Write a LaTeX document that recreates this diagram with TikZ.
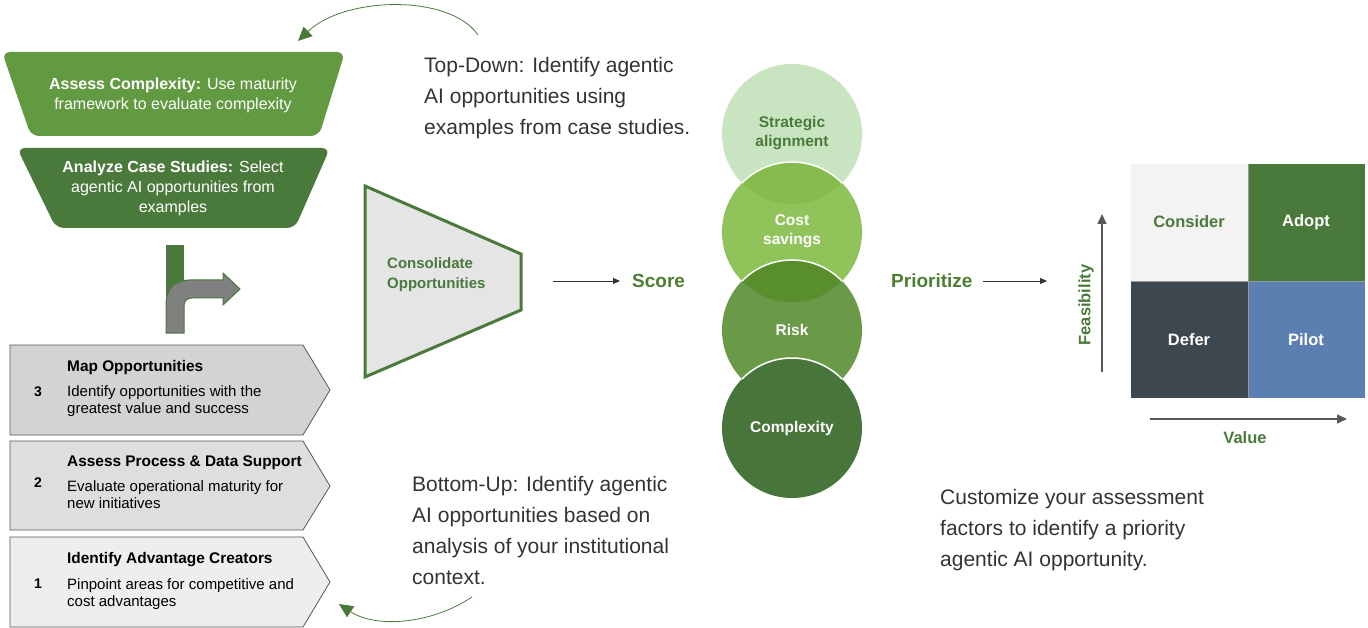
\documentclass[tikz,border=0pt]{standalone}
\usepackage{fontspec}
\setmainfont{Liberation Sans}
\usetikzlibrary{arrows.meta}
\definecolor{lgreen}{HTML}{629A41}
\definecolor{dgreen}{HTML}{4A7A3B}
\definecolor{tgreen}{HTML}{4A8030}
\definecolor{txt}{HTML}{333333}
\definecolor{cstrat}{HTML}{C9E4C0}
\definecolor{ccost}{HTML}{90C45A}
\definecolor{ccostl}{HTML}{86BC4D}
\definecolor{crisk}{HTML}{6A9A48}
\definecolor{crisklens}{HTML}{588E2C}
\definecolor{ccomp}{HTML}{48763A}
\definecolor{cons}{HTML}{F3F3F3}
\definecolor{defer}{HTML}{3D4750}
\definecolor{pilot}{HTML}{5B7FB0}
\definecolor{box3}{HTML}{D3D3D3}
\definecolor{box2}{HTML}{DEDEDE}
\definecolor{box1}{HTML}{EEEEEE}
\definecolor{arrowgray}{HTML}{808080}
\tikzset{
  para/.style={anchor=west,align=left,inner sep=0pt,text=txt,font=\fontsize{21}{31}\selectfont},
  traptext/.style={align=center,inner sep=0pt,text=white,font=\fontsize{16}{20}\selectfont},
  chevron/.style={draw=black!65,line width=0.8pt},
  btitle/.style={anchor=west,inner sep=0pt,font=\bfseries\fontsize{15.4}{18}\selectfont},
  bdesc/.style={anchor=west,align=left,inner sep=0pt,font=\fontsize{15}{17}\selectfont},
  bnum/.style={inner sep=0pt,font=\bfseries\fontsize{14}{17}\selectfont},
  circtext/.style={align=center,inner sep=0pt,text=white,font=\bfseries\fontsize{15.5}{18.5}\selectfont},
  bigword/.style={inner sep=0pt,text=tgreen,font=\bfseries\fontsize{19}{22}\selectfont},
  cell/.style={inner sep=0pt,font=\bfseries\fontsize{16.5}{20}\selectfont},
  curvearrow/.style={draw=dgreen,line width=0.8pt,-{Triangle[length=14pt,width=13pt]}},
  flowarrow/.style={draw=txt,line width=0.9pt,-{Triangle[length=7pt,width=6pt]}},
  axisarrow/.style={draw=black!65,line width=1.6pt,-{Triangle[length=10pt,width=9pt]}},
}
\begin{document}
\begin{tikzpicture}[x=1pt,y=-1pt]
\useasboundingbox (0,0) rectangle (1368,628);
% trapezoids
\fill[lgreen,rounded corners=8pt] (2,52) -- (345,52) -- (319,136) -- (31,136) -- cycle;
\node[traptext] (assess) at (173,95) {\textbf{Assess Complexity:} Use maturity\\framework to evaluate complexity};
\fill[dgreen,rounded corners=8pt] (17,148) -- (330,148) -- (295,228) -- (56,228) -- cycle;
\node[traptext] (analyze) at (173,188) {\textbf{Analyze Case Studies:} Select\\agentic AI opportunities from\\examples};
% bent arrow icon
\fill[dgreen] (166,245) rectangle (184,300);
\draw[black!60,line width=0.8pt] (166,245) -- (166,292);
\filldraw[fill=arrowgray,draw=dgreen,line width=1pt] (166,333) -- (166,304) .. controls (166,289) and (175,280) .. (190,280) -- (223,280) -- (223,273) -- (240,289) -- (223,305) -- (223,298) -- (192,298) .. controls (187,298) and (184,301) .. (184,306) -- (184,333) -- cycle;
% chevron boxes
\filldraw[chevron,fill=box3] (10,345) -- (303,345) -- (330,390) -- (303,435) -- (10,435) -- cycle;
\node[bnum] (n3) at (38,392) {3};
\node[btitle] (t3) at (67,368) {Map Opportunities};
\node[bdesc] (d3) at (67,401) {Identify opportunities with the\\greatest value and success};
\filldraw[chevron,fill=box2] (10,441) -- (303,441) -- (330,486) -- (303,530) -- (10,530) -- cycle;
\node[bnum] (n2) at (38,483) {2};
\node[btitle] (t2) at (67,463) {Assess Process \& Data Support};
\node[bdesc] (d2) at (67,495) {Evaluate operational maturity for\\new initiatives};
\filldraw[chevron,fill=box1] (10,537) -- (303,537) -- (330,582) -- (303,627) -- (10,627) -- cycle;
\node[bnum] (n1) at (38,584) {1};
\node[btitle] (t1) at (67,560) {Identify Advantage Creators};
\node[bdesc] (d1) at (67,594) {Pinpoint areas for competitive and\\cost advantages};
% curved arrows
\coordinate (ts) at (478,35);
\coordinate (te) at (298,41);
\draw[curvearrow] (ts) .. controls (450,-6) and (345,-4) .. (te);
\coordinate (bs) at (472,597);
\coordinate (be) at (339,604);
\draw[curvearrow] (bs) .. controls (430,625) and (375,628) .. (be);
% paragraphs
\node[para] (topdown) at (424,98) {Top-Down: Identify agentic\\AI opportunities using\\examples from case studies.};
\node[para] (bottomup) at (412,530) {Bottom-Up: Identify agentic\\AI opportunities based on\\analysis of your institutional\\context.};
\node[para] (custom) at (940,530) {Customize your assessment\\factors to identify a priority\\agentic AI opportunity.};
% consolidate
\filldraw[fill=black!10,draw=dgreen,line width=3pt] (365,186) -- (521,254) -- (521,310) -- (365,377) -- cycle;
\node[anchor=west,align=left,inner sep=0pt,text=dgreen,font=\bfseries\fontsize{15}{20}\selectfont] (consol) at (387,275) {Consolidate\\Opportunities};
% score
\coordinate (a1s) at (553,281);
\node[bigword,anchor=west] (score) at (632,281) {Score};
\draw[flowarrow] (a1s) -- ([xshift=-12pt]score.west);
% circles
\fill[cstrat] (792,134) circle (70);
\fill[ccost] (792,232) circle (70);
\begin{scope}\clip (792,134) circle (70); \fill[ccostl] (792,232) circle (70); \draw[white,line width=1.5pt] (792,232) circle (70); \end{scope}
\fill[crisk] (792,330) circle (70);
\begin{scope}\clip (792,232) circle (70); \fill[crisklens] (792,330) circle (70); \draw[white,line width=1.5pt] (792,330) circle (70); \end{scope}
\fill[ccomp] (792,428) circle (70);
\begin{scope}\clip (792,330) circle (70); \draw[white,line width=1.5pt] (792,428) circle (70); \end{scope}
\node[circtext,text=dgreen] (strat) at (792,133) {Strategic\\alignment};
\node[circtext] (cost) at (792,231) {Cost\\savings};
\node[circtext] (risk) at (792,330) {Risk};
\node[circtext] (comp) at (792,428) {Complexity};
% prioritize
\node[bigword,anchor=west] (prio) at (891,281) {Prioritize};
\coordinate (a2e) at (1047,281);
\draw[flowarrow] ([xshift=10pt]prio.east) -- (a2e);
% matrix
\fill[cons] (1131,164) rectangle (1248,281);
\fill[dgreen] (1248,164) rectangle (1365,281);
\fill[defer] (1131,281) rectangle (1248,398);
\fill[pilot] (1248,281) rectangle (1365,398);
\draw[black!40,line width=0.6pt] (1131,281) -- (1365,281) (1248,164) -- (1248,398);
\node[cell,text=dgreen] (consider) at (1189,222) {Consider};
\node[cell,text=white] (adopt) at (1306,222) {Adopt};
\node[cell,text=white] (deferN) at (1189,340) {Defer};
\node[cell,text=white] (pilotN) at (1306,340) {Pilot};
\coordinate (fs) at (1102,372);
\coordinate (fe) at (1102,214);
\draw[axisarrow] (fs) -- (fe);
\coordinate (vs) at (1150,419);
\coordinate (ve) at (1347,419);
\draw[axisarrow] (vs) -- (ve);
\node[cell,text=dgreen,rotate=90] (feas) at (1086,305) {Feasibility};
\node[cell,text=dgreen] (value) at (1245,438) {Value};
\end{tikzpicture}
\end{document}
